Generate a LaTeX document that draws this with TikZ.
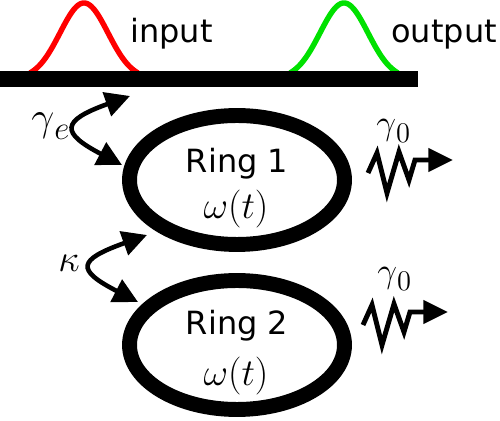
\RequirePackage{fix-cm}
\documentclass[tikz,border=0pt]{standalone}
\usepackage[no-math]{fontspec}
\setmainfont{DejaVu Sans}
\usetikzlibrary{arrows.meta,shapes.geometric}
\definecolor{pulsegreen}{RGB}{0,225,0}
\begin{document}
\begin{tikzpicture}[x=0.02cm,y=-0.02cm,
  sans/.style={inner sep=0pt, font=\fontsize{18.2pt}{22pt}\selectfont},
  mathlbl/.style={inner sep=0pt, font=\fontsize{21.6pt}{26pt}\selectfont},
  ringshape/.style={draw, ellipse, line width=8.5pt, minimum width=4.3cm, minimum height=2.58cm, inner sep=0pt},
  pulse/.style={line width=3.1pt},
  guide/.style={fill=black, inner sep=0pt, minimum width=8.36cm, minimum height=0.32cm, anchor=north west},
  coupling/.style={line width=2.6pt, {Triangle[length=14pt,width=14pt]}-{Triangle[length=14pt,width=14pt]}},
  loss/.style={line width=2.8pt, miter limit=10, -{Triangle[length=14pt,width=13pt]}},
]
\useasboundingbox (0,0) rectangle (500,421);

% pulses
\draw[pulse, red] plot[domain=-54:54, samples=80, smooth] ({84+\x},{79-76*exp(-((\x)*(\x))/1152)});
\draw[pulse, pulsegreen] plot[domain=-54:54, samples=80, smooth] ({344+\x},{79-76*exp(-((\x)*(\x))/1152)});

% waveguide
\node[guide] (wg) at (0,71) {};

\node[sans, anchor=base west] (inlbl) at (130,43) {input};
\node[sans, anchor=base west] (outlbl) at (391,43) {output};

% rings
\node[ringshape] (ring1) at (237,180) {};
\node[ringshape] (ring2) at (237,345) {};
\node[sans, anchor=base] (r1name) at (237,173) {Ring 1};
\node[mathlbl, anchor=base] (r1freq) at (236,218.5) {$\omega(t)$};
\node[sans, anchor=base] (r2name) at (237,335) {Ring 2};
\node[mathlbl, anchor=base] (r2freq) at (236,385.5) {$\omega(t)$};

% coupling labels
\node[inner sep=0pt, anchor=base west] (ge) at (31,131) {\fontsize{23.3pt}{28pt}\selectfont$\gamma$\raisebox{-5pt}{\fontsize{18.8pt}{22pt}\selectfont$e$}};
\node[mathlbl, anchor=base west] (kap) at (58,272) {$\kappa$};

% coupling arrows
\coordinate (ge1) at (130,96);
\coordinate (ge2) at (122,165);
\draw[coupling] (ge1) .. controls (60,121) and (61,133) .. (ge2);
\coordinate (k1) at (147,235);
\coordinate (k2) at (138,302);
\draw[coupling] (k1) .. controls (77,260) and (76,270) .. (k2);

% loss labels
\node[inner sep=0pt, anchor=base west] (g01) at (376,135) {\fontsize{20pt}{24pt}\selectfont$\gamma$\raisebox{-4pt}{\fontsize{16.2pt}{19pt}\selectfont$0$}};
\node[inner sep=0pt, anchor=base west] (g02) at (377,283) {\fontsize{20pt}{24pt}\selectfont$\gamma$\raisebox{-4pt}{\fontsize{16.2pt}{19pt}\selectfont$0$}};

% loss arrows
\coordinate (z1) at (368,173);
\coordinate (e1) at (453,160);
\draw[loss] (z1) -- ++(9,-20) -- ++(10,40) -- ++(12,-41) -- ++(10,28) -- ++(6,-20) -- (e1);
\coordinate (z2) at (363,325);
\coordinate (e2) at (448,312);
\draw[loss] (z2) -- ++(9,-20) -- ++(10,40) -- ++(12,-41) -- ++(10,28) -- ++(6,-20) -- (e2);
\end{tikzpicture}
\end{document}
